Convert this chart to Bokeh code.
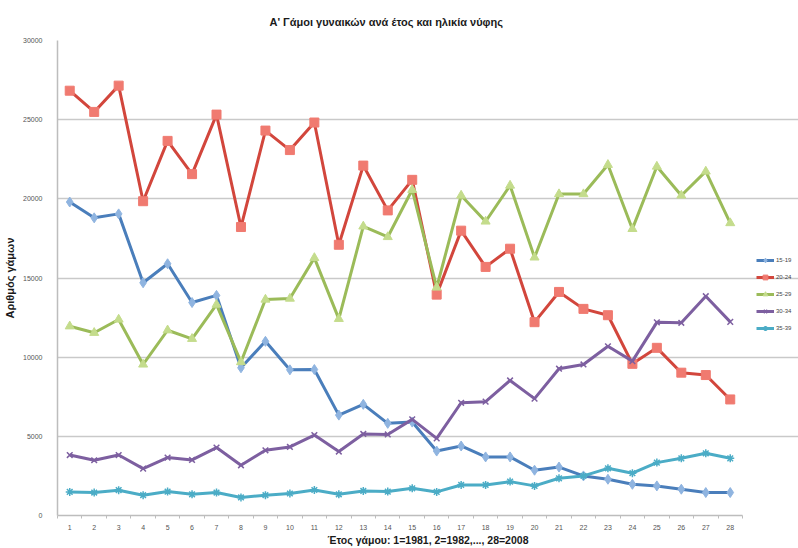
from bokeh.plotting import figure
from bokeh.models import Range1d, FixedTicker, Legend, LegendItem
from bokeh.embed import file_html
from bokeh.resources import INLINE

# Year index: 1=1981 ... 28=2008
years = list(range(1, 29))

# Marriages of women by age group of the bride
age_15_19 = [19800, 18800, 19050, 14700, 15900, 13450, 13900, 9330, 11000, 9200,
             9220, 6340, 7020, 5820, 5900, 4070, 4390, 3700, 3700, 2860,
             3060, 2500, 2290, 1970, 1870, 1660, 1450, 1450]
age_20_24 = [26830, 25490, 27150, 19850, 23660, 21560, 25320, 18220, 24310, 23080,
             24820, 17100, 22100, 19270, 21200, 13950, 17990, 15700, 16850, 12210,
             14120, 13050, 12650, 9580, 10590, 9020, 8870, 7330]
age_25_29 = [11950, 11540, 12380, 9540, 11700, 11160, 13320, 9690, 13640, 13700,
             16270, 12420, 18260, 17590, 20570, 14400, 20210, 18570, 20840, 16300,
             20300, 20300, 22150, 18100, 22040, 20210, 21730, 18470]
age_30_34 = [3820, 3490, 3820, 2960, 3660, 3510, 4290, 3170, 4120, 4330,
             5080, 4040, 5150, 5120, 6070, 4870, 7120, 7190, 8530, 7380,
             9270, 9540, 10690, 9750, 12200, 12170, 13850, 12230]
age_35_39 = [1490, 1450, 1600, 1280, 1510, 1340, 1450, 1140, 1280, 1390,
             1610, 1340, 1550, 1510, 1720, 1490, 1930, 1930, 2140, 1870,
             2350, 2500, 2980, 2670, 3340, 3610, 3930, 3610]

series_labels = ["15-19", "20-24", "25-29", "30-34", "35-39"]
y_ticks = [0, 5000, 10000, 15000, 20000, 25000, 30000]

title_text = "Α' Γάμοι γυναικών ανά έτος και ηλικία νύφης"
x_title = "Έτος γάμου: 1=1981, 2=1982,..., 28=2008"
y_title = "Αριθμός γάμων"

FONT = "Liberation Sans"

# The frame runs to the right edge; the category area (0.5..28.5) is bounded
# so the legend can sit to its right inside the same frame.
X_LO, X_HI, X_END = 0.5, 28.5, 30.79

p = figure(frame_width=741, frame_height=475, output_backend="svg",
           toolbar_location=None,
           x_range=Range1d(X_LO, X_END), y_range=Range1d(0, 30000),
           min_border_left=57, min_border_right=0, min_border_top=40,
           min_border_bottom=32, background_fill_color="white",
           border_fill_color="white", outline_line_color=None)

p.title.text = title_text
p.title.align = "left"
p.title.offset = 212
p.title.text_font = FONT
p.title.text_font_size = "11px"
p.title.text_font_style = "bold"
p.title.text_color = "#1a1a1a"
p.title.standoff = 26

# horizontal grid only, limited to the category area
p.xgrid.grid_line_color = None
p.ygrid.grid_line_color = "#c9c9c9"
p.ygrid.grid_line_width = 1.5
p.ygrid.ticker = FixedTicker(ticks=y_ticks)
p.ygrid.bounds = (X_LO, X_HI)

# y axis
p.yaxis.ticker = FixedTicker(ticks=y_ticks)
p.yaxis.axis_line_color = "#bdbdbd"
p.yaxis.axis_line_width = 1.5
p.yaxis.major_tick_line_color = None
p.yaxis.minor_tick_line_color = None
p.yaxis.major_label_text_font = FONT
p.yaxis.major_label_text_font_size = "7px"
p.yaxis.major_label_text_color = "#555555"
p.yaxis.major_label_standoff = 9
p.yaxis.axis_label = y_title
p.yaxis.axis_label_text_font = FONT
p.yaxis.axis_label_text_font_size = "11px"
p.yaxis.axis_label_text_font_style = "bold"
p.yaxis.axis_label_text_color = "#1a1a1a"
p.yaxis.axis_label_standoff = 4

# x axis: category-style ticks between points
p.xaxis.bounds = (X_LO, X_HI)
p.xaxis.ticker = FixedTicker(ticks=years, minor_ticks=[y + 0.5 for y in range(0, 29)])
p.xaxis.axis_line_color = "#bdbdbd"
p.xaxis.axis_line_width = 1.5
p.xaxis.major_tick_line_color = None
p.xaxis.minor_tick_line_color = "#bdbdbd"
p.xaxis.minor_tick_out = 3
p.xaxis.minor_tick_in = 0
p.xaxis.major_label_text_font = FONT
p.xaxis.major_label_text_font_size = "7px"
p.xaxis.major_label_text_color = "#555555"
p.xaxis.major_label_standoff = 3
p.xaxis.axis_label = x_title
p.xaxis.axis_label_text_font = FONT
p.xaxis.axis_label_text_font_size = "10.5px"
p.xaxis.axis_label_text_font_style = "bold"
p.xaxis.axis_label_text_color = "#1a1a1a"
p.xaxis.axis_label_standoff = 1

styles = [
    (age_15_19, "#4a7ebb", "#8fb4e0", "diamond", 10),
    (age_20_24, "#d2463c", "#f07a70", "square", 9),
    (age_25_29, "#9bbb59", "#c4dc8c", "triangle", 9),
    (age_30_34, "#7d5fa0", "#a48cc4", "x", 8),
    (age_35_39, "#4bacc6", "#8fd0e2", "asterisk", 8),
]

items = []
for (vals, lc, fc, marker, size), label in zip(styles, series_labels):
    ln = p.line(years, vals, line_color=lc, line_width=3)
    sc = p.scatter(years, vals, marker=marker, size=size, fill_color=fc,
                   line_color=lc if marker in ("x", "asterisk") else fc,
                   line_width=1.5 if marker in ("x", "asterisk") else 1)
    items.append(LegendItem(label=label, renderers=[ln, sc]))

legend = Legend(items=items, location=(699, 181), border_line_color=None,
                background_fill_alpha=0, label_text_font=FONT,
                label_text_font_size="6px", label_text_color="#444444",
                glyph_width=18, glyph_height=12, label_standoff=2,
                spacing=5, padding=0, margin=0)
p.add_layout(legend, "center")

open("out.html", "w").write(file_html(p, INLINE))
